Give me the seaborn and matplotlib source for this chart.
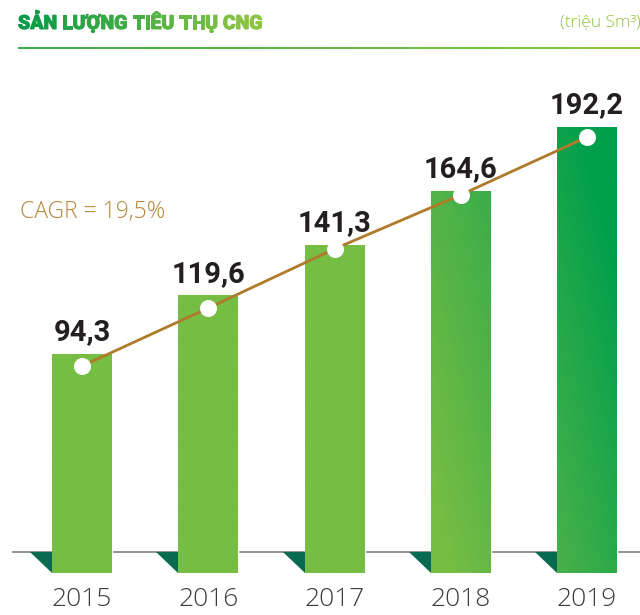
import numpy as np
import matplotlib
matplotlib.use("Agg")
import matplotlib.pyplot as plt
import matplotlib.patheffects as pe
import seaborn as sns
from matplotlib.colors import LinearSegmentedColormap
from matplotlib.transforms import blended_transform_factory

# ─────────────────────────────────────────────
# DATA
# ─────────────────────────────────────────────
years  = ["2015", "2016", "2017", "2018", "2019"]
values = [94.3, 119.6, 141.3, 164.6, 192.2]
labels = ["94,3", "119,6", "141,3", "164,6", "192,2"]
trend  = [89.2, 114.2, 139.7, 163.0, 187.9]   # CAGR line, drawn inside bars

TITLE = "SẢN LƯỢNG TIÊU THỤ CNG"
UNIT  = "(triệu Sm³)"
CAGR  = "CAGR = 19,5%"

# ─────────────────────────────────────────────
# STYLE
# ─────────────────────────────────────────────
W, H = 640, 615
PX_X = 126.25          # px per category
PX_Y = 2.32            # px per unit
BASE = 573             # bar bottom, px from top
X0   = 82              # first bar centre, px

LIGHT  = "#76bd43"
DARK   = "#009f4b"
GOLD   = "#b07a2a"
TRI    = "#086b4f"
TEXT   = "#231f20"

sns.set_theme(style="white")
plt.rcParams["font.family"] = ["Open Sans", "DejaVu Sans"]

fig = plt.figure(figsize=(W / 100, H / 100), dpi=100)
fig.patch.set_facecolor("white")
ax = fig.add_axes([0, 0, 1, 1])
ax.set_facecolor("none")

bar_w = 60 / PX_X
sns.barplot(x=years, y=values, width=bar_w, color=LIGHT, ax=ax,
            saturation=1, zorder=2)

ax.set_xlim(-X0 / PX_X, (W - X0) / PX_X)
ax.set_ylim(-(H - BASE) / PX_Y, BASE / PX_Y)
ax.axis("off")

# gradient fill on each bar (light green → deep green toward upper right)
cmap = LinearSegmentedColormap.from_list(
    "g", [(0, LIGHT), (0.18, LIGHT), (0.6, "#3fae49"), (1, DARK)])
for p in ax.patches:
    x0, y0 = p.get_x(), p.get_y()
    w, h = p.get_width(), p.get_height()
    xs = np.linspace(x0, x0 + w, 40)
    ys = np.linspace(y0, y0 + h, 80)
    gx, gy = np.meshgrid(xs, ys)
    t = np.clip((gx - 2.5) / 2.4 + gy / 500, 0, 1)
    ax.imshow(t, extent=[x0, x0 + w, y0, y0 + h], origin="lower",
              cmap=cmap, vmin=0, vmax=1, aspect="auto", zorder=2.5,
              interpolation="bilinear")

# axis line
line_y = (BASE - 552) / PX_Y
bt = blended_transform_factory(ax.transAxes, ax.transData)
ax.plot([12 / W, 1], [line_y, line_y], color="#8a8a8a", lw=1.3,
        transform=bt, zorder=1, solid_capstyle="butt")

# dark triangles left of each bar
tri_w = 22 / PX_X
for i in range(len(years)):
    left = i - bar_w / 2
    ax.fill([left - tri_w, left, left], [line_y, line_y, 0],
            color=TRI, lw=0, zorder=3)

# CAGR trend line + dots
xi = np.arange(len(years))
ax.plot(xi, trend, color=GOLD, lw=2, zorder=4)
ax.scatter(xi, trend, s=150, color="white", zorder=5, linewidths=0)

# value labels
for i, (v, lab) in enumerate(zip(values, labels)):
    ax.annotate(lab, (i, v), xytext=(0, 10), textcoords="offset points",
                ha="center", va="baseline", fontsize=21, fontweight="bold",
                color=TEXT, zorder=6, family=["Roboto", "DejaVu Sans"])

# year labels
for i, yr in enumerate(years):
    ax.text(i, -(600 - BASE) / PX_Y, yr, ha="center", va="center",
            fontsize=19, color="#3d3d3d", fontweight="light",
            family=["Open Sans", "DejaVu Sans"])

# ─────────────────────────────────────────────
# HEADER (pixel overlay)
# ─────────────────────────────────────────────
ov = fig.add_axes([0, 0, 1, 1])
ov.set_xlim(0, W)
ov.set_ylim(H, 0)
ov.axis("off")
ov.patch.set_alpha(0)

# title: per-character colours for the green gradient
renderer = fig.canvas.get_renderer()
tkw = dict(fontsize=14, fontweight="black", family=["Roboto", "DejaVu Sans"],
           va="baseline", ha="left")
probe = ov.text(0, 0, "", **tkw)
x_start, base_y = 18, 29
c0 = np.array(matplotlib.colors.to_rgb("#0a9a48"))
c1 = np.array(matplotlib.colors.to_rgb("#8cc63f"))
for k, ch in enumerate(TITLE):
    probe.set_text(TITLE[:k] + "|")
    w_all = probe.get_window_extent(renderer).width
    probe.set_text("|")
    w_bar = probe.get_window_extent(renderer).width
    off = w_all - w_bar
    col = c0 + (c1 - c0) * (k / (len(TITLE) - 1))
    ov.text(x_start + off, base_y, ch, color=col, **tkw,
            path_effects=[pe.withStroke(linewidth=0.7, foreground=col)])
probe.remove()

ov.text(641, 22, UNIT, ha="right", va="center", fontsize=12.5,
        color="#8cc63f", fontweight="light")

# separator line with gradient
grad = np.linspace(0, 1, 256).reshape(1, -1)
lcm = LinearSegmentedColormap.from_list("l", ["#3cae49", "#8cc63f"])
ov.imshow(grad, extent=[18, W, 47.5, 48.8], cmap=lcm, aspect="auto", zorder=4)
ov.set_xlim(0, W)
ov.set_ylim(H, 0)

ov.text(20, 212, CAGR, ha="left", va="center", fontsize=16.5,
        color="#b8863b", fontweight="light")

fig.savefig("out.png", dpi=100)
